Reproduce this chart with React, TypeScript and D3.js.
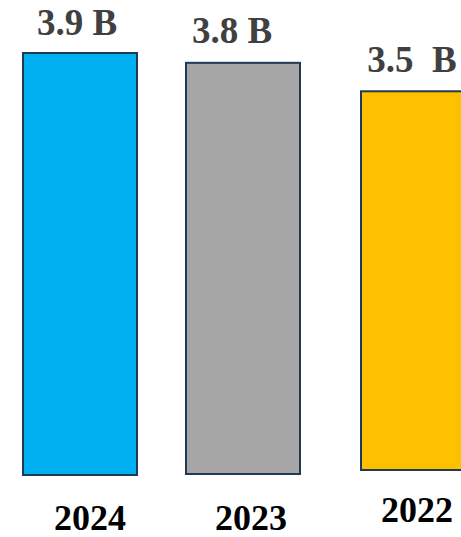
import React from "react";
import * as d3 from "d3";

const years = ["2024", "2023", "2022"];
const values = [3.9, 3.8, 3.5];
const valueLabels = ["3.9 B", "3.8 B", "3.5  B"];
const colors = ["#00B0F0", "#A6A6A6", "#FFC000"];

// layout (positions only)
const W = 461;
const H = 537;
const barLeft = [23, 186, 361];
const barBase = [475, 474, 470];
const labelDx = [-3, -11, -6];
const yearDx = [10, 8, -1];
const yearDy = [55, 56, 52];
const labelGap = [18, 20, 19];

export default function App() {
  const barW = 114;
  const h = d3.scaleLinear().domain([0, 3.9]).range([0, 422]);
  const x = d3.scaleOrdinal<string, number>().domain(years).range(barLeft);
  return (
    <svg
      width={W}
      height={H}
      style={{ position: "absolute", left: 0, top: 0, background: "#fff" }}
      fontFamily="'Liberation Serif', 'Times New Roman', serif"
      fontWeight="bold"
    >
      {years.map((yr, i) => {
        const x0 = x(yr);
        const top = barBase[i] - h(values[i]);
        const cx = x0 + barW / 2;
        return (
          <g key={yr}>
            <rect
              x={x0}
              y={top}
              width={barW}
              height={h(values[i])}
              fill={colors[i]}
              stroke="#1F3A55"
              strokeWidth={2}
            />
            <text
              x={cx + labelDx[i]}
              y={top - labelGap[i]}
              textAnchor="middle"
              fontSize={37}
              fill="#404040"
              style={{ whiteSpace: "pre" }}
            >
              {valueLabels[i]}
            </text>
            <text
              x={cx + yearDx[i]}
              y={barBase[i] + yearDy[i]}
              textAnchor="middle"
              fontSize={36}
              fill="#000"
            >
              {yr}
            </text>
          </g>
        );
      })}
    </svg>
  );
}
